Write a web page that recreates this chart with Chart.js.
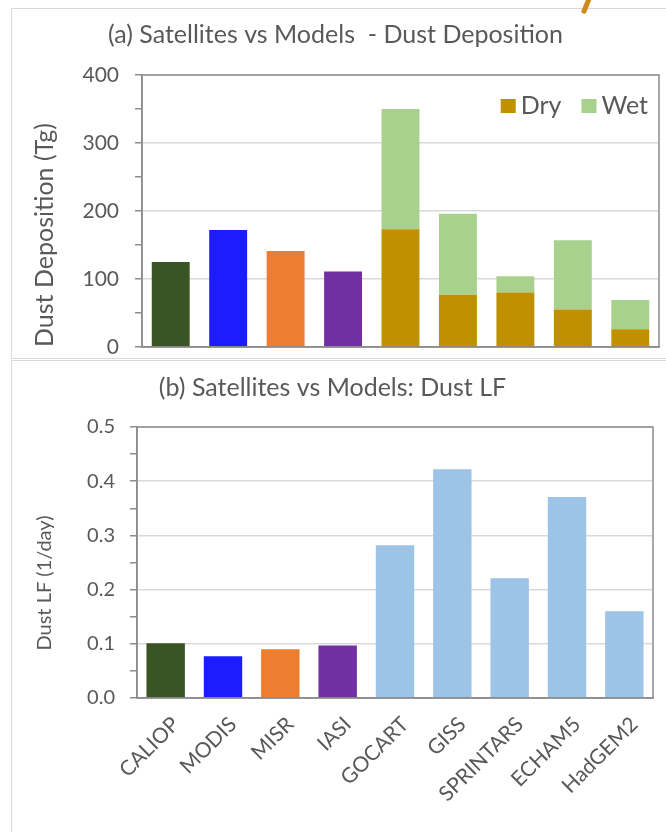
<!DOCTYPE html>
<html>
<head>
<meta charset="utf-8">
<script src="https://cdn.jsdelivr.net/npm/chart.js@4.4.1/dist/chart.umd.min.js"></script>
<style>
  body { margin: 0; background: #fff; width: 666px; height: 832px; overflow: hidden; position: relative; }
  .frame { position: absolute; left: 11px; width: 700px; border: 1px solid #d9d9d9; }
  #frameA { top: 8px; height: 349px; }
  #frameB { top: 360px; height: 500px; }
  canvas { position: absolute; left: 12px; }
  #chartA { top: 9px; }
  #chartB { top: 361px; }
  #swoosh { position: absolute; left: 584px; top: -4px; width: 5px; height: 18px; background: #cf8a1c; transform: rotate(22deg); border-radius: 2px; }
</style>
</head>
<body>
<div class="frame" id="frameA"></div>
<div class="frame" id="frameB"></div>
<div id="swoosh"></div>
<canvas id="chartA" width="654" height="349"></canvas>
<canvas id="chartB" width="654" height="471"></canvas>
<script>
// categories: 4 satellites then 5 models
var categories = ['CALIOP', 'MODIS', 'MISR', 'IASI', 'GOCART', 'GISS', 'SPRINTARS', 'ECHAM5', 'HadGEM2'];

// (a) dust deposition (Tg)
var satDeposition = [125, 172, 141, 111, null, null, null, null, null];
var dryDeposition = [null, null, null, null, 173, 77, 80, 55, 26];
var wetDeposition = [null, null, null, null, 177, 119, 24, 102, 43];

// (b) dust lifetime factor (1/day)
var dustLF = [0.101, 0.077, 0.090, 0.097, 0.282, 0.422, 0.221, 0.371, 0.160];

var satColors = ['#3a5424', '#1c1cff', '#ed7d31', '#7030a0'];
var dryColor = '#bf9000';
var wetColor = '#a9d18e';
var modelColor = '#9dc3e6';

var textColor = '#595959';
var axisColor = '#8c8c8c';
var gridColor = '#d9d9d9';
var fontFamily = 'Lato, "Open Sans", sans-serif';

Chart.defaults.font.family = fontFamily;
Chart.defaults.color = textColor;

// grey frame around the plot area (Excel style)
var plotFrame = {
    id: 'plotFrame',
    afterDraw: function(chart) {
        var a = chart.chartArea, c = chart.ctx;
        c.save();
        c.strokeStyle = axisColor;
        c.lineWidth = 1.5;
        c.strokeRect(a.left, a.top, a.right - a.left, a.bottom - a.top);
        c.restore();
    }
};

// legend drawn inside the plot area, top right, only for Dry / Wet
var insideLegend = {
    id: 'insideLegend',
    afterDraw: function(chart) {
        var a = chart.chartArea, c = chart.ctx;
        var items = chart.data.datasets.filter(function(d) { return d.label !== 'Sat'; });
        c.save();
        c.font = '25px ' + fontFamily;
        c.textBaseline = 'middle';
        var x = a.right - 11, y = a.top + 31;
        for (var i = items.length - 1; i >= 0; i--) {
            var w = c.measureText(items[i].label).width;
            x -= w;
            c.fillStyle = textColor;
            c.fillText(items[i].label, x, y);
            x -= 20;
            c.fillStyle = items[i].backgroundColor;
            c.fillRect(x, y - 7, 15, 14);
            x -= 20;
        }
        c.restore();
    }
};

// the y tick labels add their own padding; drop it so the plot area fills the box
function fixYAxis(width) {
    return function(s) {
        s.width = width;
        s.paddingTop = 0;
        s.paddingBottom = 0;
    };
}

new Chart(document.getElementById('chartA'), {
    type: 'bar',
    data: {
        labels: categories,
        datasets: [
            { label: 'Sat', data: satDeposition, backgroundColor: satColors, stack: 's' },
            { label: 'Dry', data: dryDeposition, backgroundColor: dryColor, stack: 's' },
            { label: 'Wet', data: wetDeposition, backgroundColor: wetColor, stack: 's' }
        ]
    },
    options: {
        responsive: false,
        animation: false,
        layout: { padding: { left: 0, right: 7, top: 0, bottom: 0 } },
        datasets: { bar: { categoryPercentage: 1, barPercentage: 0.66, skipNull: true } },
        plugins: {
            title: {
                display: true,
                text: '(a) Satellites vs Models  - Dust Deposition',
                font: { size: 25, weight: 'normal', lineHeight: 1.2 },
                color: textColor,
                padding: { top: 11, bottom: 25 }
            },
            legend: { display: false },
            tooltip: { enabled: false }
        },
        scales: {
            x: {
                stacked: true,
                ticks: { display: false },
                grid: { display: false },
                border: { color: axisColor, width: 1.5 },
                afterFit: function(s) { s.height = 11; }
            },
            y: {
                stacked: true,
                min: 0, max: 400,
                ticks: {
                    stepSize: 50,
                    padding: 16,
                    font: { size: 21 },
                    color: textColor,
                    callback: function(v) { return v % 100 === 0 ? v : ''; }
                },
                grid: {
                    tickLength: 7,
                    tickColor: axisColor,
                    color: function(ctx) { return ctx.tick && ctx.tick.value % 100 === 0 ? gridColor : 'rgba(0,0,0,0)'; },
                    lineWidth: 1.5
                },
                border: { color: axisColor, width: 1.5 },
                title: {
                    display: true,
                    text: 'Dust Deposition (Tg)',
                    align: 'start',
                    font: { size: 25 },
                    color: textColor,
                    padding: { top: 18, bottom: 0 }
                },
                afterFit: fixYAxis(130)
            }
        }
    },
    plugins: [plotFrame, insideLegend]
});

new Chart(document.getElementById('chartB'), {
    type: 'bar',
    data: {
        labels: categories,
        datasets: [{
            label: 'Dust LF',
            data: dustLF,
            backgroundColor: satColors.concat([modelColor, modelColor, modelColor, modelColor, modelColor])
        }]
    },
    options: {
        responsive: false,
        animation: false,
        layout: { padding: { left: 0, right: 13, top: 0, bottom: 0 } },
        datasets: { bar: { categoryPercentage: 1, barPercentage: 0.67 } },
        plugins: {
            title: {
                display: true,
                text: '(b) Satellites vs Models: Dust LF',
                font: { size: 25, weight: 'normal', lineHeight: 1.2 },
                color: textColor,
                padding: { top: 12, bottom: 24 }
            },
            legend: { display: false },
            tooltip: { enabled: false }
        },
        scales: {
            x: {
                ticks: { font: { size: 21 }, color: textColor, minRotation: 45, maxRotation: 45, padding: 6, labelOffset: 10 },
                grid: { display: false },
                border: { color: axisColor, width: 1.5 },
                afterFit: function(s) { s.height = 134; }
            },
            y: {
                min: 0, max: 0.5,
                ticks: {
                    stepSize: 0.05,
                    padding: 15,
                    font: { size: 20 },
                    color: textColor,
                    callback: function(v) {
                        var r = Math.round(v * 100);
                        return r % 10 === 0 ? (r / 100).toFixed(1) : '';
                    }
                },
                grid: {
                    tickLength: 7,
                    tickColor: axisColor,
                    color: function(ctx) {
                        return ctx.tick && Math.round(ctx.tick.value * 100) % 10 === 0 ? gridColor : 'rgba(0,0,0,0)';
                    },
                    lineWidth: 1.5
                },
                border: { color: axisColor, width: 1.5 },
                title: {
                    display: true,
                    // trailing spaces push the visible text a little lower, as in the original
                    text: 'Dust LF (1/day)\u00a0\u00a0\u00a0\u00a0\u00a0\u00a0\u00a0\u00a0',
                    font: { size: 20 },
                    color: textColor,
                    padding: { top: 21, bottom: 0 }
                },
                afterFit: fixYAxis(125)
            }
        }
    },
    plugins: [plotFrame]
});
</script>
</body>
</html>
